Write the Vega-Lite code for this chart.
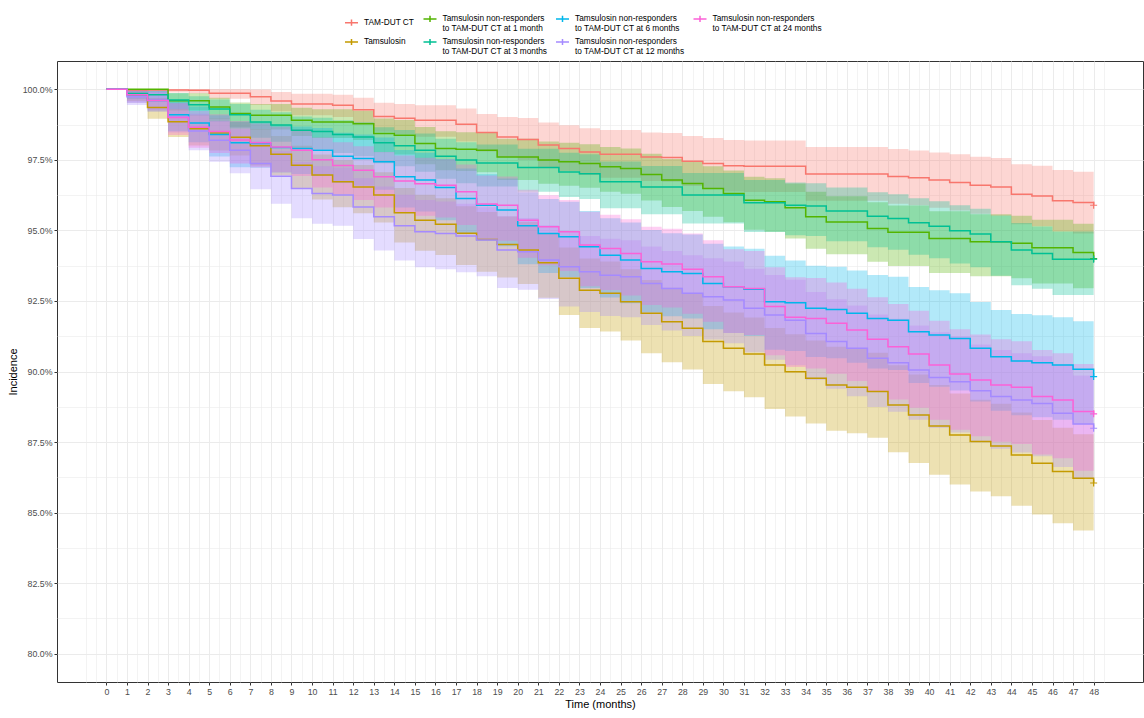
{
"$schema": "https://vega.github.io/schema/vega-lite/v6.json",
"autosize": {"type": "none"},
"padding": {"left": 57, "top": 61, "right": 1, "bottom": 36},
"width": 1086,
"height": 621,
"config": {
  "font": "Liberation Sans",
  "view": {"stroke": "#333333", "strokeWidth": 1},
  "axis": {"domain": false, "labelFont": "Liberation Sans", "titleFont": "Liberation Sans", "labelColor": "#4D4D4D", "labelFontSize": 8.8, "tickColor": "#333333", "tickSize": 3, "titleFontWeight": "normal", "titleFontSize": 11, "titleColor": "#000000", "gridColor": "#EBEBEB"}
},
"data": {"values": [
{"g":"A","t":0,"s":100,"lo":100,"hi":100},
{"g":"A","t":1,"s":99.97,"lo":99.88,"hi":100},
{"g":"A","t":2,"s":99.97,"lo":99.88,"hi":100},
{"g":"A","t":3,"s":99.97,"lo":99.88,"hi":100},
{"g":"A","t":4,"s":99.96,"lo":99.85,"hi":100},
{"g":"A","t":5,"s":99.86,"lo":99.66,"hi":100},
{"g":"A","t":6,"s":99.86,"lo":99.66,"hi":100},
{"g":"A","t":7,"s":99.73,"lo":99.44,"hi":99.99},
{"g":"A","t":8,"s":99.58,"lo":99.22,"hi":99.9},
{"g":"A","t":9,"s":99.48,"lo":99.08,"hi":99.84},
{"g":"A","t":10,"s":99.48,"lo":99.08,"hi":99.84},
{"g":"A","t":11,"s":99.43,"lo":99.02,"hi":99.8},
{"g":"A","t":12,"s":99.27,"lo":98.8,"hi":99.7},
{"g":"A","t":13,"s":99.03,"lo":98.49,"hi":99.52},
{"g":"A","t":14,"s":98.97,"lo":98.41,"hi":99.48},
{"g":"A","t":15,"s":98.9,"lo":98.32,"hi":99.43},
{"g":"A","t":16,"s":98.9,"lo":98.32,"hi":99.43},
{"g":"A","t":17,"s":98.76,"lo":98.15,"hi":99.32},
{"g":"A","t":18,"s":98.47,"lo":97.79,"hi":99.12},
{"g":"A","t":19,"s":98.31,"lo":97.6,"hi":99.02},
{"g":"A","t":20,"s":98.22,"lo":97.49,"hi":98.98},
{"g":"A","t":21,"s":98.02,"lo":97.24,"hi":98.82},
{"g":"A","t":22,"s":97.9,"lo":97.1,"hi":98.72},
{"g":"A","t":23,"s":97.78,"lo":96.96,"hi":98.62},
{"g":"A","t":24,"s":97.7,"lo":96.86,"hi":98.56},
{"g":"A","t":25,"s":97.7,"lo":96.86,"hi":98.56},
{"g":"A","t":26,"s":97.6,"lo":96.75,"hi":98.47},
{"g":"A","t":27,"s":97.58,"lo":96.72,"hi":98.45},
{"g":"A","t":28,"s":97.45,"lo":96.57,"hi":98.34},
{"g":"A","t":29,"s":97.37,"lo":96.48,"hi":98.27},
{"g":"A","t":30,"s":97.29,"lo":96.38,"hi":98.2},
{"g":"A","t":31,"s":97.27,"lo":96.36,"hi":98.18},
{"g":"A","t":32,"s":97.27,"lo":96.36,"hi":98.18},
{"g":"A","t":33,"s":97.27,"lo":96.36,"hi":98.18},
{"g":"A","t":34,"s":97.0,"lo":96.05,"hi":97.95},
{"g":"A","t":35,"s":97.0,"lo":96.05,"hi":97.95},
{"g":"A","t":36,"s":97.0,"lo":96.05,"hi":97.95},
{"g":"A","t":37,"s":97.0,"lo":96.05,"hi":97.95},
{"g":"A","t":38,"s":96.91,"lo":95.94,"hi":97.88},
{"g":"A","t":39,"s":96.86,"lo":95.89,"hi":97.83},
{"g":"A","t":40,"s":96.78,"lo":95.8,"hi":97.76},
{"g":"A","t":41,"s":96.7,"lo":95.7,"hi":97.7},
{"g":"A","t":42,"s":96.6,"lo":95.59,"hi":97.61},
{"g":"A","t":43,"s":96.54,"lo":95.52,"hi":97.56},
{"g":"A","t":44,"s":96.28,"lo":95.22,"hi":97.34},
{"g":"A","t":45,"s":96.22,"lo":95.15,"hi":97.29},
{"g":"A","t":46,"s":96.05,"lo":94.96,"hi":97.14},
{"g":"A","t":47,"s":95.99,"lo":94.89,"hi":97.08},
{"g":"A","t":48,"s":95.89,"lo":94.77,"hi":97.0},
{"g":"B","t":0,"s":100,"lo":100,"hi":100},
{"g":"B","t":1,"s":99.8,"lo":99.58,"hi":99.99},
{"g":"B","t":2,"s":99.35,"lo":98.95,"hi":99.69},
{"g":"B","t":3,"s":98.85,"lo":98.31,"hi":99.3},
{"g":"B","t":4,"s":98.6,"lo":98.01,"hi":99.1},
{"g":"B","t":5,"s":98.45,"lo":97.83,"hi":98.97},
{"g":"B","t":6,"s":98.3,"lo":97.65,"hi":98.85},
{"g":"B","t":7,"s":98.0,"lo":97.3,"hi":98.59},
{"g":"B","t":8,"s":97.7,"lo":96.94,"hi":98.34},
{"g":"B","t":9,"s":97.31,"lo":96.49,"hi":98.0},
{"g":"B","t":10,"s":96.96,"lo":96.09,"hi":97.69},
{"g":"B","t":11,"s":96.72,"lo":95.82,"hi":97.48},
{"g":"B","t":12,"s":96.54,"lo":95.61,"hi":97.32},
{"g":"B","t":13,"s":96.25,"lo":95.28,"hi":97.06},
{"g":"B","t":14,"s":95.62,"lo":94.57,"hi":96.5},
{"g":"B","t":15,"s":95.36,"lo":94.28,"hi":96.26},
{"g":"B","t":16,"s":95.22,"lo":94.13,"hi":96.14},
{"g":"B","t":17,"s":94.9,"lo":93.77,"hi":95.85},
{"g":"B","t":18,"s":94.68,"lo":93.53,"hi":95.65},
{"g":"B","t":19,"s":94.5,"lo":93.33,"hi":95.49},
{"g":"B","t":20,"s":94.3,"lo":93.1,"hi":95.3},
{"g":"B","t":21,"s":93.85,"lo":92.61,"hi":94.89},
{"g":"B","t":22,"s":93.3,"lo":92.0,"hi":94.39},
{"g":"B","t":23,"s":92.88,"lo":91.54,"hi":94.0},
{"g":"B","t":24,"s":92.77,"lo":91.42,"hi":93.9},
{"g":"B","t":25,"s":92.47,"lo":91.1,"hi":93.62},
{"g":"B","t":26,"s":92.06,"lo":90.65,"hi":93.24},
{"g":"B","t":27,"s":91.76,"lo":90.33,"hi":92.97},
{"g":"B","t":28,"s":91.53,"lo":90.07,"hi":92.75},
{"g":"B","t":29,"s":91.06,"lo":89.56,"hi":92.32},
{"g":"B","t":30,"s":90.82,"lo":89.3,"hi":92.09},
{"g":"B","t":31,"s":90.62,"lo":89.09,"hi":91.91},
{"g":"B","t":32,"s":90.23,"lo":88.67,"hi":91.54},
{"g":"B","t":33,"s":89.99,"lo":88.41,"hi":91.32},
{"g":"B","t":34,"s":89.76,"lo":88.16,"hi":91.1},
{"g":"B","t":35,"s":89.52,"lo":87.9,"hi":90.88},
{"g":"B","t":36,"s":89.44,"lo":87.81,"hi":90.81},
{"g":"B","t":37,"s":89.29,"lo":87.65,"hi":90.66},
{"g":"B","t":38,"s":88.81,"lo":87.14,"hi":90.22},
{"g":"B","t":39,"s":88.46,"lo":86.76,"hi":89.89},
{"g":"B","t":40,"s":88.07,"lo":86.34,"hi":89.52},
{"g":"B","t":41,"s":87.75,"lo":86.0,"hi":89.22},
{"g":"B","t":42,"s":87.52,"lo":85.75,"hi":89.0},
{"g":"B","t":43,"s":87.36,"lo":85.58,"hi":88.86},
{"g":"B","t":44,"s":87.04,"lo":85.24,"hi":88.55},
{"g":"B","t":45,"s":86.75,"lo":84.93,"hi":88.28},
{"g":"B","t":46,"s":86.46,"lo":84.62,"hi":88.01},
{"g":"B","t":47,"s":86.22,"lo":84.37,"hi":87.78},
{"g":"B","t":48,"s":86.05,"lo":84.18,"hi":87.62},
{"g":"C1","t":0,"s":100,"lo":100,"hi":100},
{"g":"C1","t":1,"s":100,"lo":100,"hi":100},
{"g":"C1","t":2,"s":100,"lo":100,"hi":100},
{"g":"C1","t":3,"s":99.59,"lo":99.25,"hi":99.86},
{"g":"C1","t":4,"s":99.59,"lo":99.25,"hi":99.86},
{"g":"C1","t":5,"s":99.37,"lo":98.95,"hi":99.7},
{"g":"C1","t":6,"s":99.14,"lo":98.65,"hi":99.53},
{"g":"C1","t":7,"s":99.08,"lo":98.57,"hi":99.48},
{"g":"C1","t":8,"s":99.08,"lo":98.57,"hi":99.48},
{"g":"C1","t":9,"s":98.9,"lo":98.34,"hi":99.34},
{"g":"C1","t":10,"s":98.84,"lo":98.27,"hi":99.29},
{"g":"C1","t":11,"s":98.84,"lo":98.27,"hi":99.29},
{"g":"C1","t":12,"s":98.78,"lo":98.2,"hi":99.24},
{"g":"C1","t":13,"s":98.43,"lo":97.77,"hi":98.96},
{"g":"C1","t":14,"s":98.37,"lo":97.69,"hi":98.91},
{"g":"C1","t":15,"s":98.08,"lo":97.34,"hi":98.66},
{"g":"C1","t":16,"s":97.9,"lo":97.13,"hi":98.51},
{"g":"C1","t":17,"s":97.87,"lo":97.1,"hi":98.48},
{"g":"C1","t":18,"s":97.84,"lo":97.06,"hi":98.46},
{"g":"C1","t":19,"s":97.6,"lo":96.78,"hi":98.25},
{"g":"C1","t":20,"s":97.6,"lo":96.78,"hi":98.25},
{"g":"C1","t":21,"s":97.49,"lo":96.65,"hi":98.15},
{"g":"C1","t":22,"s":97.43,"lo":96.58,"hi":98.1},
{"g":"C1","t":23,"s":97.37,"lo":96.51,"hi":98.05},
{"g":"C1","t":24,"s":97.25,"lo":96.37,"hi":97.95},
{"g":"C1","t":25,"s":97.19,"lo":96.3,"hi":97.9},
{"g":"C1","t":26,"s":96.98,"lo":96.06,"hi":97.71},
{"g":"C1","t":27,"s":96.78,"lo":95.83,"hi":97.53},
{"g":"C1","t":28,"s":96.66,"lo":95.69,"hi":97.43},
{"g":"C1","t":29,"s":96.48,"lo":95.48,"hi":97.27},
{"g":"C1","t":30,"s":96.31,"lo":95.29,"hi":97.12},
{"g":"C1","t":31,"s":96.07,"lo":95.02,"hi":96.9},
{"g":"C1","t":32,"s":96.01,"lo":94.95,"hi":96.85},
{"g":"C1","t":33,"s":95.8,"lo":94.71,"hi":96.66},
{"g":"C1","t":34,"s":95.48,"lo":94.35,"hi":96.37},
{"g":"C1","t":35,"s":95.3,"lo":94.15,"hi":96.21},
{"g":"C1","t":36,"s":95.3,"lo":94.15,"hi":96.21},
{"g":"C1","t":37,"s":95.07,"lo":93.89,"hi":96.0},
{"g":"C1","t":38,"s":94.93,"lo":93.74,"hi":95.88},
{"g":"C1","t":39,"s":94.93,"lo":93.74,"hi":95.88},
{"g":"C1","t":40,"s":94.71,"lo":93.49,"hi":95.68},
{"g":"C1","t":41,"s":94.71,"lo":93.49,"hi":95.68},
{"g":"C1","t":42,"s":94.6,"lo":93.37,"hi":95.57},
{"g":"C1","t":43,"s":94.6,"lo":93.37,"hi":95.57},
{"g":"C1","t":44,"s":94.54,"lo":93.3,"hi":95.52},
{"g":"C1","t":45,"s":94.38,"lo":93.12,"hi":95.38},
{"g":"C1","t":46,"s":94.38,"lo":93.12,"hi":95.38},
{"g":"C1","t":47,"s":94.22,"lo":92.95,"hi":95.23},
{"g":"C1","t":48,"s":94.0,"lo":92.7,"hi":95.03},
{"g":"C3","t":0,"s":100,"lo":100,"hi":100},
{"g":"C3","t":1,"s":99.85,"lo":99.65,"hi":100},
{"g":"C3","t":2,"s":99.8,"lo":99.57,"hi":99.98},
{"g":"C3","t":3,"s":99.62,"lo":99.3,"hi":99.87},
{"g":"C3","t":4,"s":99.45,"lo":99.07,"hi":99.75},
{"g":"C3","t":5,"s":99.3,"lo":98.86,"hi":99.64},
{"g":"C3","t":6,"s":99.1,"lo":98.61,"hi":99.48},
{"g":"C3","t":7,"s":98.84,"lo":98.28,"hi":99.27},
{"g":"C3","t":8,"s":98.73,"lo":98.14,"hi":99.18},
{"g":"C3","t":9,"s":98.55,"lo":97.93,"hi":99.03},
{"g":"C3","t":10,"s":98.5,"lo":97.87,"hi":98.99},
{"g":"C3","t":11,"s":98.4,"lo":97.74,"hi":98.9},
{"g":"C3","t":12,"s":98.31,"lo":97.63,"hi":98.83},
{"g":"C3","t":13,"s":98.1,"lo":97.38,"hi":98.65},
{"g":"C3","t":14,"s":98.0,"lo":97.27,"hi":98.56},
{"g":"C3","t":15,"s":97.84,"lo":97.08,"hi":98.43},
{"g":"C3","t":16,"s":97.63,"lo":96.83,"hi":98.25},
{"g":"C3","t":17,"s":97.49,"lo":96.67,"hi":98.12},
{"g":"C3","t":18,"s":97.39,"lo":96.55,"hi":98.04},
{"g":"C3","t":19,"s":97.39,"lo":96.55,"hi":98.04},
{"g":"C3","t":20,"s":97.23,"lo":96.37,"hi":97.89},
{"g":"C3","t":21,"s":97.23,"lo":96.37,"hi":97.89},
{"g":"C3","t":22,"s":97.07,"lo":96.18,"hi":97.75},
{"g":"C3","t":23,"s":97.01,"lo":96.11,"hi":97.7},
{"g":"C3","t":24,"s":96.72,"lo":95.78,"hi":97.44},
{"g":"C3","t":25,"s":96.72,"lo":95.78,"hi":97.44},
{"g":"C3","t":26,"s":96.54,"lo":95.57,"hi":97.28},
{"g":"C3","t":27,"s":96.54,"lo":95.57,"hi":97.28},
{"g":"C3","t":28,"s":96.25,"lo":95.24,"hi":97.03},
{"g":"C3","t":29,"s":96.25,"lo":95.24,"hi":97.03},
{"g":"C3","t":30,"s":96.25,"lo":95.24,"hi":97.03},
{"g":"C3","t":31,"s":95.98,"lo":94.94,"hi":96.78},
{"g":"C3","t":32,"s":95.98,"lo":94.94,"hi":96.78},
{"g":"C3","t":33,"s":95.89,"lo":94.83,"hi":96.7},
{"g":"C3","t":34,"s":95.86,"lo":94.8,"hi":96.67},
{"g":"C3","t":35,"s":95.69,"lo":94.61,"hi":96.52},
{"g":"C3","t":36,"s":95.69,"lo":94.61,"hi":96.52},
{"g":"C3","t":37,"s":95.5,"lo":94.4,"hi":96.35},
{"g":"C3","t":38,"s":95.42,"lo":94.31,"hi":96.28},
{"g":"C3","t":39,"s":95.27,"lo":94.14,"hi":96.14},
{"g":"C3","t":40,"s":95.15,"lo":94.01,"hi":96.03},
{"g":"C3","t":41,"s":94.99,"lo":93.83,"hi":95.89},
{"g":"C3","t":42,"s":94.87,"lo":93.69,"hi":95.77},
{"g":"C3","t":43,"s":94.6,"lo":93.39,"hi":95.53},
{"g":"C3","t":44,"s":94.3,"lo":93.06,"hi":95.26},
{"g":"C3","t":45,"s":94.18,"lo":92.93,"hi":95.14},
{"g":"C3","t":46,"s":93.98,"lo":92.71,"hi":94.96},
{"g":"C3","t":47,"s":93.98,"lo":92.71,"hi":94.96},
{"g":"C3","t":48,"s":93.98,"lo":92.71,"hi":94.96},
{"g":"C6","t":0,"s":100,"lo":100,"hi":100},
{"g":"C6","t":1,"s":99.8,"lo":99.52,"hi":100},
{"g":"C6","t":2,"s":99.6,"lo":99.21,"hi":99.94},
{"g":"C6","t":3,"s":99.1,"lo":98.51,"hi":99.61},
{"g":"C6","t":4,"s":98.8,"lo":98.12,"hi":99.39},
{"g":"C6","t":5,"s":98.4,"lo":97.62,"hi":99.08},
{"g":"C6","t":6,"s":98.1,"lo":97.24,"hi":98.85},
{"g":"C6","t":7,"s":98.08,"lo":97.22,"hi":98.83},
{"g":"C6","t":8,"s":97.94,"lo":97.05,"hi":98.72},
{"g":"C6","t":9,"s":97.9,"lo":97.0,"hi":98.68},
{"g":"C6","t":10,"s":97.84,"lo":96.93,"hi":98.63},
{"g":"C6","t":11,"s":97.63,"lo":96.68,"hi":98.46},
{"g":"C6","t":12,"s":97.55,"lo":96.58,"hi":98.4},
{"g":"C6","t":13,"s":97.43,"lo":96.44,"hi":98.29},
{"g":"C6","t":14,"s":96.9,"lo":95.81,"hi":97.85},
{"g":"C6","t":15,"s":96.78,"lo":95.67,"hi":97.75},
{"g":"C6","t":16,"s":96.52,"lo":95.36,"hi":97.53},
{"g":"C6","t":17,"s":96.13,"lo":94.91,"hi":97.19},
{"g":"C6","t":18,"s":95.89,"lo":94.63,"hi":96.99},
{"g":"C6","t":19,"s":95.72,"lo":94.44,"hi":96.84},
{"g":"C6","t":20,"s":95.16,"lo":93.8,"hi":96.35},
{"g":"C6","t":21,"s":94.89,"lo":93.49,"hi":96.11},
{"g":"C6","t":22,"s":94.77,"lo":93.35,"hi":96.01},
{"g":"C6","t":23,"s":94.42,"lo":92.96,"hi":95.69},
{"g":"C6","t":24,"s":94.12,"lo":92.62,"hi":95.43},
{"g":"C6","t":25,"s":93.95,"lo":92.42,"hi":95.28},
{"g":"C6","t":26,"s":93.65,"lo":92.09,"hi":95.01},
{"g":"C6","t":27,"s":93.53,"lo":91.96,"hi":94.9},
{"g":"C6","t":28,"s":93.47,"lo":91.88,"hi":94.85},
{"g":"C6","t":29,"s":93.12,"lo":91.5,"hi":94.53},
{"g":"C6","t":30,"s":93.0,"lo":91.36,"hi":94.43},
{"g":"C6","t":31,"s":92.91,"lo":91.26,"hi":94.35},
{"g":"C6","t":32,"s":92.47,"lo":90.77,"hi":94.1},
{"g":"C6","t":33,"s":92.44,"lo":90.73,"hi":93.93},
{"g":"C6","t":34,"s":92.24,"lo":90.51,"hi":93.75},
{"g":"C6","t":35,"s":92.2,"lo":90.47,"hi":93.71},
{"g":"C6","t":36,"s":92.06,"lo":90.31,"hi":93.58},
{"g":"C6","t":37,"s":91.88,"lo":90.11,"hi":93.42},
{"g":"C6","t":38,"s":91.82,"lo":90.05,"hi":93.36},
{"g":"C6","t":39,"s":91.41,"lo":89.59,"hi":92.99},
{"g":"C6","t":40,"s":91.29,"lo":89.46,"hi":92.88},
{"g":"C6","t":41,"s":91.17,"lo":89.33,"hi":92.77},
{"g":"C6","t":42,"s":90.82,"lo":88.94,"hi":92.46},
{"g":"C6","t":43,"s":90.52,"lo":88.61,"hi":92.18},
{"g":"C6","t":44,"s":90.37,"lo":88.45,"hi":92.04},
{"g":"C6","t":45,"s":90.31,"lo":88.38,"hi":91.99},
{"g":"C6","t":46,"s":90.23,"lo":88.29,"hi":91.92},
{"g":"C6","t":47,"s":90.08,"lo":88.13,"hi":91.78},
{"g":"C6","t":48,"s":89.82,"lo":87.84,"hi":91.54},
{"g":"C12","t":0,"s":100,"lo":100,"hi":100},
{"g":"C12","t":1,"s":99.73,"lo":99.44,"hi":99.99},
{"g":"C12","t":2,"s":99.61,"lo":99.26,"hi":99.92},
{"g":"C12","t":3,"s":99.02,"lo":98.47,"hi":99.52},
{"g":"C12","t":4,"s":98.52,"lo":97.84,"hi":99.13},
{"g":"C12","t":5,"s":98.19,"lo":97.43,"hi":98.87},
{"g":"C12","t":6,"s":97.84,"lo":97.02,"hi":98.58},
{"g":"C12","t":7,"s":97.37,"lo":96.46,"hi":98.18},
{"g":"C12","t":8,"s":96.92,"lo":95.94,"hi":97.8},
{"g":"C12","t":9,"s":96.48,"lo":95.43,"hi":97.42},
{"g":"C12","t":10,"s":96.31,"lo":95.23,"hi":97.27},
{"g":"C12","t":11,"s":96.25,"lo":95.16,"hi":97.22},
{"g":"C12","t":12,"s":95.83,"lo":94.69,"hi":96.85},
{"g":"C12","t":13,"s":95.48,"lo":94.29,"hi":96.55},
{"g":"C12","t":14,"s":95.16,"lo":93.93,"hi":96.26},
{"g":"C12","t":15,"s":94.95,"lo":93.69,"hi":96.08},
{"g":"C12","t":16,"s":94.89,"lo":93.62,"hi":96.02},
{"g":"C12","t":17,"s":94.8,"lo":93.52,"hi":95.94},
{"g":"C12","t":18,"s":94.66,"lo":93.37,"hi":95.82},
{"g":"C12","t":19,"s":94.3,"lo":92.96,"hi":95.5},
{"g":"C12","t":20,"s":94.24,"lo":92.9,"hi":95.44},
{"g":"C12","t":21,"s":93.95,"lo":92.57,"hi":95.18},
{"g":"C12","t":22,"s":93.71,"lo":92.3,"hi":94.97},
{"g":"C12","t":23,"s":93.53,"lo":92.11,"hi":94.8},
{"g":"C12","t":24,"s":93.41,"lo":91.97,"hi":94.7},
{"g":"C12","t":25,"s":93.36,"lo":91.92,"hi":94.65},
{"g":"C12","t":26,"s":93.12,"lo":91.65,"hi":94.43},
{"g":"C12","t":27,"s":92.94,"lo":91.45,"hi":94.27},
{"g":"C12","t":28,"s":92.77,"lo":91.26,"hi":94.12},
{"g":"C12","t":29,"s":92.65,"lo":91.13,"hi":94.01},
{"g":"C12","t":30,"s":92.53,"lo":91.0,"hi":93.9},
{"g":"C12","t":31,"s":92.24,"lo":90.68,"hi":93.64},
{"g":"C12","t":32,"s":92.0,"lo":90.42,"hi":93.42},
{"g":"C12","t":33,"s":91.82,"lo":90.22,"hi":93.25},
{"g":"C12","t":34,"s":91.35,"lo":89.7,"hi":92.82},
{"g":"C12","t":35,"s":91.06,"lo":89.39,"hi":92.56},
{"g":"C12","t":36,"s":90.82,"lo":89.12,"hi":92.34},
{"g":"C12","t":37,"s":90.47,"lo":88.74,"hi":92.02},
{"g":"C12","t":38,"s":90.31,"lo":88.57,"hi":91.87},
{"g":"C12","t":39,"s":90.05,"lo":88.29,"hi":91.63},
{"g":"C12","t":40,"s":89.79,"lo":88.0,"hi":91.39},
{"g":"C12","t":41,"s":89.64,"lo":87.84,"hi":91.25},
{"g":"C12","t":42,"s":89.32,"lo":87.49,"hi":90.96},
{"g":"C12","t":43,"s":89.11,"lo":87.26,"hi":90.76},
{"g":"C12","t":44,"s":88.99,"lo":87.13,"hi":90.65},
{"g":"C12","t":45,"s":88.87,"lo":87.0,"hi":90.54},
{"g":"C12","t":46,"s":88.52,"lo":86.62,"hi":90.22},
{"g":"C12","t":47,"s":88.14,"lo":86.21,"hi":89.86},
{"g":"C12","t":48,"s":87.99,"lo":86.05,"hi":89.73},
{"g":"C24","t":0,"s":100,"lo":100,"hi":100},
{"g":"C24","t":1,"s":99.8,"lo":99.52,"hi":100},
{"g":"C24","t":2,"s":99.6,"lo":99.21,"hi":99.92},
{"g":"C24","t":3,"s":99.0,"lo":98.38,"hi":99.5},
{"g":"C24","t":4,"s":98.65,"lo":97.93,"hi":99.23},
{"g":"C24","t":5,"s":98.5,"lo":97.74,"hi":99.11},
{"g":"C24","t":6,"s":98.2,"lo":97.37,"hi":98.87},
{"g":"C24","t":7,"s":98.1,"lo":97.24,"hi":98.79},
{"g":"C24","t":8,"s":97.95,"lo":97.06,"hi":98.67},
{"g":"C24","t":9,"s":97.84,"lo":96.93,"hi":98.58},
{"g":"C24","t":10,"s":97.5,"lo":96.52,"hi":98.29},
{"g":"C24","t":11,"s":97.3,"lo":96.28,"hi":98.12},
{"g":"C24","t":12,"s":97.13,"lo":96.08,"hi":97.98},
{"g":"C24","t":13,"s":96.9,"lo":95.81,"hi":97.78},
{"g":"C24","t":14,"s":96.75,"lo":95.63,"hi":97.65},
{"g":"C24","t":15,"s":96.65,"lo":95.52,"hi":97.57},
{"g":"C24","t":16,"s":96.6,"lo":95.46,"hi":97.52},
{"g":"C24","t":17,"s":96.37,"lo":95.19,"hi":97.33},
{"g":"C24","t":18,"s":95.93,"lo":94.68,"hi":96.94},
{"g":"C24","t":19,"s":95.89,"lo":94.63,"hi":96.91},
{"g":"C24","t":20,"s":95.36,"lo":94.03,"hi":96.44},
{"g":"C24","t":21,"s":95.13,"lo":93.76,"hi":96.24},
{"g":"C24","t":22,"s":94.95,"lo":93.56,"hi":96.08},
{"g":"C24","t":23,"s":94.48,"lo":93.02,"hi":95.66},
{"g":"C24","t":24,"s":94.36,"lo":92.89,"hi":95.55},
{"g":"C24","t":25,"s":94.18,"lo":92.69,"hi":95.39},
{"g":"C24","t":26,"s":93.89,"lo":92.36,"hi":95.13},
{"g":"C24","t":27,"s":93.81,"lo":92.27,"hi":95.06},
{"g":"C24","t":28,"s":93.62,"lo":92.05,"hi":94.89},
{"g":"C24","t":29,"s":93.36,"lo":91.76,"hi":94.65},
{"g":"C24","t":30,"s":93.0,"lo":91.36,"hi":94.33},
{"g":"C24","t":31,"s":92.94,"lo":91.29,"hi":94.27},
{"g":"C24","t":32,"s":92.3,"lo":90.58,"hi":93.69},
{"g":"C24","t":33,"s":91.92,"lo":90.16,"hi":93.34},
{"g":"C24","t":34,"s":91.88,"lo":90.11,"hi":93.31},
{"g":"C24","t":35,"s":91.71,"lo":89.92,"hi":93.15},
{"g":"C24","t":36,"s":91.47,"lo":89.66,"hi":92.93},
{"g":"C24","t":37,"s":91.14,"lo":89.29,"hi":92.63},
{"g":"C24","t":38,"s":90.88,"lo":89.01,"hi":92.39},
{"g":"C24","t":39,"s":90.62,"lo":88.72,"hi":92.15},
{"g":"C24","t":40,"s":90.23,"lo":88.29,"hi":91.8},
{"g":"C24","t":41,"s":89.91,"lo":87.94,"hi":91.5},
{"g":"C24","t":42,"s":89.7,"lo":87.71,"hi":91.31},
{"g":"C24","t":43,"s":89.52,"lo":87.51,"hi":91.14},
{"g":"C24","t":44,"s":89.44,"lo":87.43,"hi":91.07},
{"g":"C24","t":45,"s":89.11,"lo":87.06,"hi":90.76},
{"g":"C24","t":46,"s":88.99,"lo":86.93,"hi":90.65},
{"g":"C24","t":47,"s":88.58,"lo":86.48,"hi":90.27},
{"g":"C24","t":48,"s":88.5,"lo":86.4,"hi":90.2}
]},
"resolve": {"axis": {"x": "independent", "y": "independent"}},
"layer": [
  {
    "mark": {"type": "area", "interpolate": "step-after", "opacity": 0.3},
    "encoding": {
      "x": {"field": "t", "type": "quantitative", "scale": {"domain": [-2.4, 50.4], "nice": false, "zero": false},
        "axis": {"orient": "top", "values": [-1,-0.5,0.5,1.5,2.5,3.5,4.5,5.5,6.5,7.5,8.5,9.5,10.5,11.5,12.5,13.5,14.5,15.5,16.5,17.5,18.5,19.5,20.5,21.5,22.5,23.5,24.5,25.5,26.5,27.5,28.5,29.5,30.5,31.5,32.5,33.5,34.5,35.5,36.5,37.5,38.5,39.5,40.5,41.5,42.5,43.5,44.5,45.5,46.5,47.5,48.5], "grid": true, "gridWidth": 0.6, "labels": false, "ticks": false, "domain": false, "title": null}},
      "y": {"field": "lo", "type": "quantitative", "scale": {"domain": [79, 101], "nice": false, "zero": false},
        "axis": {"orient": "right", "values": [81.25, 83.75, 86.25, 88.75, 91.25, 93.75, 96.25, 98.75], "grid": true, "gridWidth": 0.6, "labels": false, "ticks": false, "domain": false, "title": null}},
      "y2": {"field": "hi"},
      "fill": {"field": "g", "type": "nominal",
        "scale": {"domain": ["B", "A", "C1", "C3", "C6", "C12", "C24"], "range": ["#C49A00", "#F8766D", "#53B400", "#00C094", "#00B6EB", "#A58AFF", "#FB61D7"]},
        "legend": null}
    }
  },
  {
    "mark": {"type": "line", "interpolate": "step-after", "strokeWidth": 1.5},
    "encoding": {
      "x": {"field": "t", "type": "quantitative", "scale": {"domain": [-2.4, 50.4], "nice": false, "zero": false},
        "axis": {"orient": "bottom", "values": [0,1,2,3,4,5,6,7,8,9,10,11,12,13,14,15,16,17,18,19,20,21,22,23,24,25,26,27,28,29,30,31,32,33,34,35,36,37,38,39,40,41,42,43,44,45,46,47,48], "grid": true, "gridWidth": 1, "labelPadding": 2, "title": "Time (months)", "titlePadding": 3, "labelFlush": false, "labelOverlap": false}},
      "y": {"field": "s", "type": "quantitative", "scale": {"domain": [79, 101], "nice": false, "zero": false},
        "axis": {"orient": "left", "values": [80, 82.5, 85, 87.5, 90, 92.5, 95, 97.5, 100], "grid": true, "gridWidth": 1, "labelPadding": 2, "labelExpr": "format(datum.value, '.1f') + '%'", "title": "Incidence", "titlePadding": 4}},
      "stroke": {"field": "g", "type": "nominal",
        "scale": {"domain": ["A", "B", "C1", "C3", "C6", "C12", "C24"], "range": ["#F8766D", "#C49A00", "#53B400", "#00C094", "#00B6EB", "#A58AFF", "#FB61D7"]},
        "legend": {"orient": "none", "legendX": 286, "legendY": -51, "columns": 4, "direction": "vertical", "title": null, "padding": 0,
          "symbolType": "M-0.84,0H0.84M0,-0.4V0.4", "symbolSize": 240, "symbolStrokeWidth": 1.5,
          "labelFontSize": 8.3, "labelLineHeight": 9, "labelOffset": 4, "labelColor": "#000000", "labelFont": "Liberation Sans",
          "columnPadding": 4.5, "rowPadding": 0.5, "labelLimit": 400,
          "labelExpr": "datum.label == 'A' ? 'TAM-DUT CT' : datum.label == 'B' ? 'Tamsulosin' : ['Tamsulosin non-responders', 'to TAM-DUT CT at ' + (datum.label == 'C1' ? '1 month' : datum.label == 'C3' ? '3 months' : datum.label == 'C6' ? '6 months' : datum.label == 'C12' ? '12 months' : '24 months')]"}}
    }
  },
  {
    "transform": [{"filter": "datum.t == 48"}],
    "mark": {"type": "point", "shape": "M-1,0H1M0,-1V1", "filled": false, "size": 49, "strokeWidth": 1.2, "opacity": 1},
    "encoding": {
      "x": {"field": "t", "type": "quantitative", "axis": null},
      "y": {"field": "s", "type": "quantitative", "axis": null},
      "stroke": {"field": "g", "type": "nominal"}
    }
  }
]
}
